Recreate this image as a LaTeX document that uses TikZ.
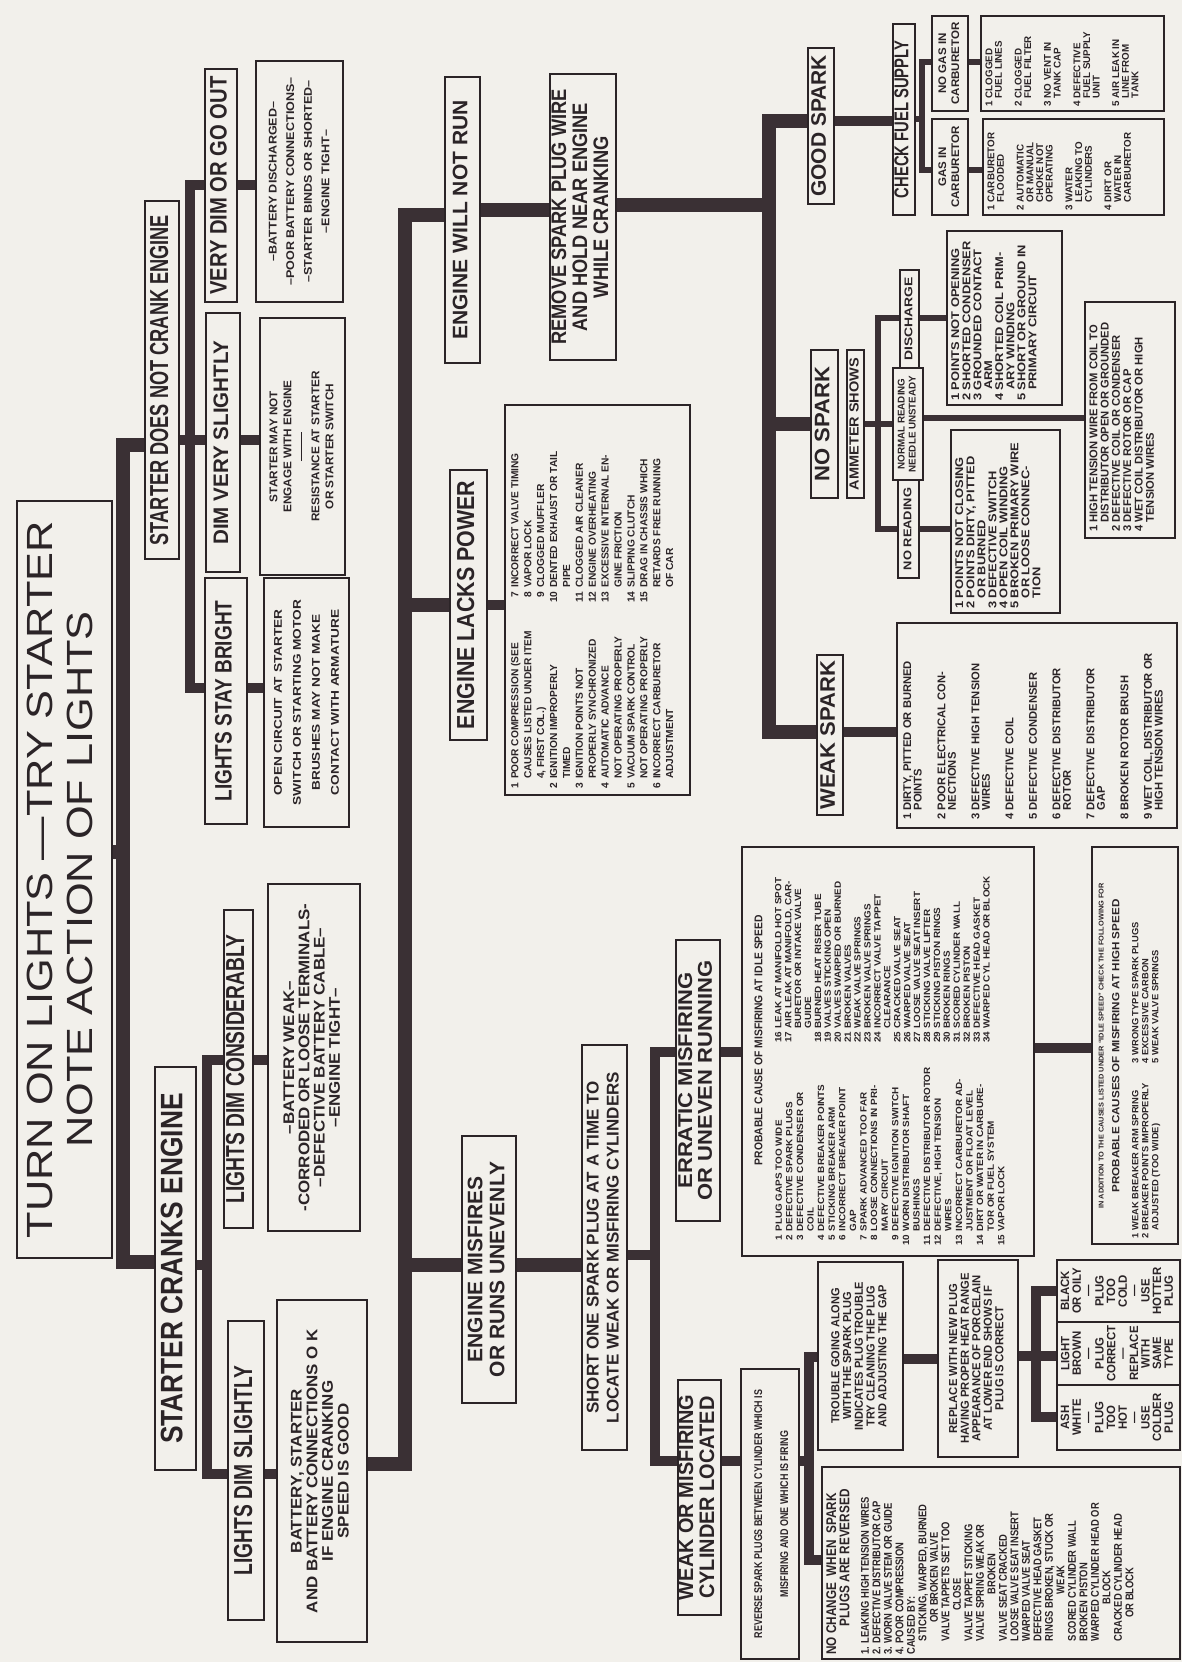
\documentclass[tikz,border=0pt]{standalone}
\usepackage{fontspec}
\setmainfont{Liberation Sans}
\usepackage{graphicx}
\definecolor{ink}{HTML}{2B2427}
\definecolor{wire}{HTML}{3A3034}
\definecolor{bg}{HTML}{F2F0EB}
\newcommand{\mytitle}[4]{\scalebox{#2}[1]{\fontsize{#1}{#3}\selectfont\begin{tabular}{@{}c@{}}#4\end{tabular}}}
\newcommand{\mytc}[4]{\scalebox{#2}[1]{\fontsize{#1}{#3}\selectfont\bfseries\begin{tabular}{@{}c@{}}#4\end{tabular}}}
\newcommand{\mylist}[5]{\scalebox{#2}[1]{\fontsize{#1}{#3}\selectfont\bfseries\begin{tabular}{@{}#4@{}}#5\end{tabular}}}
\newcommand{\pbx}[7][]{\node[box,#1,minimum width={(#6-#4)*0.5pt},minimum height={(#5-#3)*0.5pt}] (#2) at ({(#3+#5)/2},{(#4+#6)/2}) {#7};}
\begin{document}
\begin{tikzpicture}[x=0.5pt,y=-0.5pt,
  box/.style={draw=ink,line width=1.4pt,rotate=90,inner sep=0pt,text=ink},
  lbl/.style={rotate=90,inner sep=0pt,text=ink},
  trunk/.style={draw=wire,line width=7pt},
  med/.style={draw=wire,line width=5pt},
  thin/.style={draw=wire,line width=3pt}]
\fill[bg] (0,0) rectangle (1182,1662);
% ---------------- title and first level
\pbx{T}{17}{501}{112}{1258}{\mytitle{18.2}{1.19}{20}{TURN ON LIGHTS —TRY STARTER\\NOTE ACTION OF LIGHTS}}
\pbx{S1}{145}{201}{179}{559}{\mytc{13}{0.70}{15}{STARTER DOES NOT CRANK ENGINE}}
\pbx{S2}{155}{1067}{196}{1470}{\mytc{15.5}{0.85}{17}{STARTER CRANKS ENGINE}}
% ---------------- starter does not crank
\pbx{VD}{205}{69}{237}{302}{\mytc{11.9}{0.85}{14}{VERY DIM OR GO OUT}}
\pbx{DVS}{206}{313}{240}{572}{\mytc{10.5}{0.98}{13}{DIM VERY SLIGHTLY}}
\pbx{LSB}{205}{578}{247}{824}{\mytc{11.9}{0.8}{14}{LIGHTS STAY BRIGHT}}
\pbx{VDL}{256}{61}{343}{302}{\mytc{5.6}{1.12}{8.8}{–BATTERY DISCHARGED–\\–POOR BATTERY CONNECTIONS–\\–STARTER BINDS OR SHORTED–\\–ENGINE TIGHT–}}
\pbx{DVSL}{260}{318}{345}{575}{\mytc{5.6}{1.05}{7}{STARTER MAY NOT\\ENGAGE WITH ENGINE\\\rule[1.8pt]{14pt}{0.6pt}\\RESISTANCE AT STARTER\\OR STARTER SWITCH}}
\pbx{LSBL}{264}{578}{349}{827}{\mytc{5.6}{1.22}{9.5}{OPEN CIRCUIT AT STARTER\\SWITCH OR STARTING MOTOR\\BRUSHES MAY NOT MAKE\\CONTACT WITH ARMATURE}}
% ---------------- starter cranks
\pbx{LDC}{224}{910}{253}{1228}{\mytc{13}{0.74}{14}{LIGHTS DIM CONSIDERABLY}}
\pbx{LDS}{228}{1321}{264}{1620}{\mytc{13}{0.74}{15}{LIGHTS DIM SLIGHTLY}}
\pbx{BW}{268}{884}{360}{1231}{\mytc{7.7}{1.1}{7.5}{–BATTERY WEAK–\\-CORRODED OR LOOSE TERMINALS-\\–DEFECTIVE BATTERY CABLE–\\–ENGINE TIGHT–}}
\pbx{BS}{277}{1300}{367}{1642}{\mytc{7.7}{1.1}{7.8}{BATTERY, STARTER\\AND BATTERY CONNECTIONS O K\\IF ENGINE CRANKING\\SPEED IS GOOD}}
% ---------------- engine level
\pbx{EWNR}{445}{77}{480}{363}{\mytc{10.5}{1.0}{12}{ENGINE WILL NOT RUN}}
\pbx{ELP}{450}{470}{487}{740}{\mytc{12.3}{0.87}{14}{ENGINE LACKS POWER}}
\pbx{EMR}{462}{1136}{516}{1403}{\mytc{10.5}{1.0}{11}{ENGINE MISFIRES\\OR RUNS UNEVENLY}}
\pbx{REM}{550}{74}{616}{360}{\mytc{10.5}{0.87}{10.5}{REMOVE SPARK PLUG WIRE\\AND HOLD NEAR ENGINE\\WHILE CRANKING}}
\pbx{ELL}{505}{405}{690}{795}{}
\node[lbl,anchor=north west] (ELLt) at (509,789) {\mylist{5.1}{1.0}{6.45}{r@{\hspace{2pt}}p{88pt}@{}r@{\hspace{2pt}}l}{%
1 & POOR COMPRESSION (SEE & 7 & INCORRECT VALVE TIMING\\
 & CAUSES LISTED UNDER ITEM & 8 & VAPOR LOCK\\
 & 4, FIRST COL.) & 9 & CLOGGED MUFFLER\\
2 & IGNITION IMPROPERLY & 10 & DENTED EXHAUST OR TAIL\\
 & TIMED & & PIPE\\
3 & IGNITION POINTS NOT & 11 & CLOGGED AIR CLEANER\\
 & PROPERLY SYNCHRONIZED & 12 & ENGINE OVERHEATING\\
4 & AUTOMATIC ADVANCE & 13 & EXCESSIVE INTERNAL EN-\\
 & NOT OPERATING PROPERLY & & GINE FRICTION\\
5 & VACUUM SPARK CONTROL & 14 & SLIPPING CLUTCH\\
 & NOT OPERATING PROPERLY & 15 & DRAG IN CHASSIS WHICH\\
6 & INCORRECT CARBURETOR & & RETARDS FREE RUNNING\\
 & ADJUSTMENT & & OF CAR}};
% ---------------- engine will not run branch
\pbx{GS}{808}{48}{834}{204}{\mytc{10.5}{1.0}{12}{GOOD SPARK}}
\pbx{CFS}{893}{24}{915}{215}{\mytc{10}{0.74}{11}{CHECK FUEL SUPPLY}}
\pbx{NG}{932}{16}{968}{111}{\mytc{5.5}{1.05}{6.5}{NO GAS IN\\CARBURETOR}}
\pbx{GI}{932}{119}{968}{215}{\mytc{5.5}{1.05}{6.5}{GAS IN\\CARBURETOR}}
\pbx{CLL}{981}{16}{1164}{111}{}
\node[lbl,anchor=north west] (CLLt) at (985,107) {\mylist{4.9}{1.0}{4.75}{r@{\hspace{1.5pt}}l}{%
1 & CLOGGED\\ & FUEL LINES\\[5pt]
2 & CLOGGED\\ & FUEL FILTER\\[5pt]
3 & NO VENT IN\\ & TANK CAP\\[5pt]
4 & DEFECTIVE\\ & FUEL SUPPLY\\ & UNIT\\[5pt]
5 & AIR LEAK IN\\ & LINE FROM\\ & TANK}};
\pbx{FLL}{983}{119}{1164}{215}{}
\node[lbl,anchor=north west] (FLLt) at (987,211) {\mylist{4.9}{1.0}{4.75}{r@{\hspace{1.5pt}}l}{%
1 & CARBURETOR\\ & FLOODED\\[5pt]
2 & AUTOMATIC\\ & OR MANUAL\\ & CHOKE NOT\\ & OPERATING\\[5pt]
3 & WATER\\ & LEAKING TO\\ & CYLINDERS\\[5pt]
4 & DIRT OR\\ & WATER IN\\ & CARBURETOR}};
\pbx{NS}{811}{350}{838}{498}{\mytc{10.5}{1.05}{12}{NO SPARK}}
\pbx{AM}{847}{350}{864}{498}{\mytc{6.6}{1.1}{7.5}{AMMETER SHOWS}}
\pbx{DIS}{900}{270}{919}{368}{\mytc{5.6}{1.24}{7}{DISCHARGE}}
\pbx{NRB}{893}{368}{923}{480}{\mytc{4.9}{1.0}{5.5}{NORMAL READING\\NEEDLE UNSTEADY}}
\pbx{NOR}{898}{480}{919}{578}{\mytc{5.6}{1.15}{7}{NO READING}}
\pbx{DISL}{947}{231}{1062}{405}{}
\node[lbl,anchor=north west] (DISLt) at (951,401) {\mylist{5.6}{1.15}{5.35}{r@{\hspace{1.5pt}}l}{%
1 & POINTS NOT OPENING\\
2 & SHORTED CONDENSER\\
3 & GROUNDED CONTACT\\
 & ARM\\
4 & SHORTED COIL PRIM-\\
 & ARY WINDING\\
5 & SHORT OR GROUND IN\\
 & PRIMARY CIRCUIT}};
\pbx{NRL}{951}{430}{1060}{613}{}
\node[lbl,anchor=north west] (NRLt) at (955,609) {\mylist{5.6}{1.15}{5.35}{r@{\hspace{1.5pt}}l}{%
1 & POINTS NOT CLOSING\\
2 & POINTS DIRTY, PITTED\\
 & OR BURNED\\
3 & DEFECTIVE SWITCH\\
4 & OPEN COIL WINDING\\
5 & BROKEN PRIMARY WIRE\\
 & OR LOOSE CONNEC-\\
 & TION}};
\pbx{HTL}{1085}{302}{1175}{538}{}
\node[lbl,anchor=north west] (HTLt) at (1089,532) {\mylist{5.6}{1.0}{5.65}{r@{\hspace{1.5pt}}l}{%
1 & HIGH TENSION WIRE FROM COIL TO\\
 & DISTRIBUTOR OPEN OR GROUNDED\\
2 & DEFECTIVE COIL OR CONDENSER\\
3 & DEFECTIVE ROTOR OR CAP\\
4 & WET COIL DISTRIBUTOR OR HIGH\\
 & TENSION WIRES}};
\pbx{WS}{817}{655}{843}{815}{\mytc{10.5}{1.05}{12}{WEAK SPARK}}
\pbx{WSL}{897}{623}{1177}{828}{}
\node[lbl,anchor=north west] (WSLt) at (903,820) {\mylist{5.6}{1.0}{4.5}{r@{\hspace{1.5pt}}l}{%
1 & DIRTY, PITTED OR BURNED\\ & POINTS\\[6.5pt]
2 & POOR ELECTRICAL CON-\\ & NECTIONS\\[6.5pt]
3 & DEFECTIVE HIGH TENSION\\ & WIRES\\[6.5pt]
4 & DEFECTIVE COIL\\[6.5pt]
5 & DEFECTIVE CONDENSER\\[6.5pt]
6 & DEFECTIVE DISTRIBUTOR\\ & ROTOR\\[6.5pt]
7 & DEFECTIVE DISTRIBUTOR\\ & GAP\\[6.5pt]
8 & BROKEN ROTOR BRUSH\\[6.5pt]
9 & WET COIL, DISTRIBUTOR OR\\ & HIGH TENSION WIRES}};
% ---------------- misfiring branch
\pbx{SO}{582}{1045}{627}{1450}{\mytc{8.5}{1.0}{10}{SHORT ONE SPARK PLUG AT A TIME TO\\LOCATE WEAK OR MISFIRING CYLINDERS}}
\pbx{ERR}{676}{940}{720}{1221}{\mytc{10}{1.1}{9.8}{ERRATIC MISFIRING\\OR UNEVEN RUNNING}}
\pbx{WOM}{678}{1380}{721}{1615}{\mytc{10.5}{0.95}{10.5}{WEAK OR MISFIRING\\CYLINDER LOCATED}}
\pbx{PC}{742}{847}{1034}{1256}{}
\node[lbl] (PCT) at (760,1040) {\mytc{5.6}{0.92}{6}{PROBABLE CAUSE OF MISFIRING AT IDLE SPEED}};
\node[lbl,anchor=north west] (PCA) at (774,1246) {\mylist{4.5}{1.1}{5.3}{r@{\hspace{1.5pt}}l}{%
1 & PLUG GAPS TOO WIDE\\
2 & DEFECTIVE SPARK PLUGS\\
3 & DEFECTIVE CONDENSER OR\\
 & COIL\\
4 & DEFECTIVE BREAKER POINTS\\
5 & STICKING BREAKER ARM\\
6 & INCORRECT BREAKER POINT\\
 & GAP\\
7 & SPARK ADVANCED TOO FAR\\
8 & LOOSE CONNECTIONS IN PRI-\\
 & MARY CIRCUIT\\
9 & DEFECTIVE IGNITION SWITCH\\
10 & WORN DISTRIBUTOR SHAFT\\
 & BUSHINGS\\
11 & DEFECTIVE DISTRIBUTOR ROTOR\\
12 & DEFECTIVE, HIGH TENSION\\
 & WIRES\\
13 & INCORRECT CARBURETOR AD-\\
 & JUSTMENT OR FLOAT LEVEL\\
14 & DIRT OR WATER IN CARBURE-\\
 & TOR OR FUEL SYSTEM\\
15 & VAPOR LOCK}};
\node[lbl,anchor=north west] (PCB) at (774,1043) {\mylist{4.5}{1.1}{4.96}{r@{\hspace{1.5pt}}l}{%
16 & LEAK AT MANIFOLD HOT SPOT\\
17 & AIR LEAK AT MANIFOLD, CAR-\\
 & BURETOR OR INTAKE VALVE\\
 & GUIDE\\
18 & BURNED HEAT RISER TUBE\\
19 & VALVES STICKING OPEN\\
20 & VALVES WARPED OR BURNED\\
21 & BROKEN VALVES\\
22 & WEAK VALVE SPRINGS\\
23 & BROKEN VALVE SPRINGS\\
24 & INCORRECT VALVE TAPPET\\
 & CLEARANCE\\
25 & CRACKED VALVE SEAT\\
26 & WARPED VALVE SEAT\\
27 & LOOSE VALVE SEAT INSERT\\
28 & STICKING VALVE LIFTER\\
29 & STICKING PISTON RINGS\\
30 & BROKEN RINGS\\
31 & SCORED CYLINDER WALL\\
32 & BROKEN PISTON\\
33 & DEFECTIVE HEAD GASKET\\
34 & WARPED CYL HEAD OR BLOCK}};
\pbx{HS}{1092}{847}{1178}{1244}{}
\node[lbl] (HST) at (1102,1046) {\mytc{3.5}{1.05}{4}{IN ADDITION TO THE CAUSES LISTED UNDER ``IDLE SPEED'' CHECK THE FOLLOWING FOR}};
\node[lbl] (HSH) at (1117,1046) {\mytc{5.2}{1.12}{6}{PROBABLE CAUSES OF MISFIRING AT HIGH SPEED}};
\node[lbl,anchor=north west] (HSL) at (1131,1239) {\mylist{4.5}{1.04}{5}{r@{\hspace{1.5pt}}p{80pt}@{}r@{\hspace{1.5pt}}l}{%
1 & WEAK BREAKER ARM SPRING & 3 & WRONG TYPE SPARK PLUGS\\
2 & BREAKER POINTS IMPROPERLY & 4 & EXCESSIVE CARBON\\
 & ADJUSTED (TOO WIDE) & 5 & WEAK VALVE SPRINGS}};
\pbx{REV}{741}{1369}{799}{1659}{\mytc{5.6}{0.8}{13}{REVERSE SPARK PLUGS BETWEEN CYLINDER WHICH IS\\MISFIRING AND ONE WHICH IS FIRING}}
\pbx{TR}{818}{1262}{903}{1450}{\mytc{5.8}{0.95}{5.9}{TROUBLE GOING ALONG\\WITH THE SPARK PLUG\\INDICATES PLUG TROUBLE\\TRY CLEANING THE PLUG\\AND ADJUSTING THE GAP}}
\pbx{RP}{938}{1260}{1018}{1457}{\mytc{5.8}{0.97}{5.75}{REPLACE WITH NEW PLUG\\HAVING PROPER HEAT RANGE\\APPEARANCE OF PORCELAIN\\AT LOWER END SHOWS IF\\PLUG IS CORRECT}}
\pbx{BK}{1057}{1260}{1180}{1322}{\mytc{6}{0.95}{5.5}{BLACK\\OR OILY\\—\\PLUG\\TOO\\COLD\\—\\USE\\HOTTER\\PLUG}}
\pbx{LB}{1057}{1322}{1180}{1385}{\mytc{6}{0.95}{5.5}{LIGHT\\BROWN\\—\\PLUG\\CORRECT\\—\\REPLACE\\WITH\\SAME\\TYPE}}
\pbx{AS}{1057}{1385}{1180}{1450}{\mytc{6}{0.95}{5.5}{ASH\\WHITE\\—\\PLUG\\TOO\\HOT\\—\\USE\\COLDER\\PLUG}}
\pbx{NC}{822}{1467}{1180}{1659}{}
\node[lbl,anchor=north west] (NCt) at (826,1655) {\mylist{5.6}{0.84}{5.75}{l}{%
{\fontsize{7}{7.5}\selectfont NO CHANGE\ \ WHEN\ \ SPARK}\\
\hspace{17pt}{\fontsize{7}{7.5}\selectfont PLUGS ARE REVERSED}\\[4pt]
1. LEAKING HIGH TENSION WIRES\\
2. DEFECTIVE DISTRIBUTOR CAP\\
3. WORN VALVE STEM OR GUIDE\\
4. POOR COMPRESSION\\
CAUSED BY:\\
\hspace{8pt}STICKING, WARPED, BURNED\\
\hspace{19pt}OR BROKEN VALVE\\
\hspace{8pt}VALVE TAPPETS SET TOO\\
\hspace{26pt}CLOSE\\
\hspace{8pt}VALVE TAPPET STICKING\\
\hspace{8pt}VALVE SPRING WEAK OR\\
\hspace{36pt}BROKEN\\
\hspace{8pt}VALVE SEAT CRACKED\\
\hspace{8pt}LOOSE VALVE SEAT INSERT\\
\hspace{8pt}WARPED VALVE SEAT\\
\hspace{8pt}DEFECTIVE HEAD GASKET\\
\hspace{8pt}RINGS BROKEN, STUCK OR\\
\hspace{36pt}WEAK\\
\hspace{8pt}SCORED CYLINDER WALL\\
\hspace{8pt}BROKEN PISTON\\
\hspace{8pt}WARPED CYLINDER HEAD OR\\
\hspace{30pt}BLOCK\\
\hspace{8pt}CRACKED CYLINDER HEAD\\
\hspace{22pt}OR BLOCK}};
% ---------------- connectors
\coordinate (aT) at (123,445); \coordinate (aB) at (123,1262); \coordinate (aM) at (123,852);
\draw[trunk] (S1.north |- aT) -| (aB) -- (S2.north |- aB);
\draw[trunk] (T.south |- aM) -- (aM);
\coordinate (b1) at (190,185); \coordinate (b2) at (190,440); \coordinate (b3) at (190,688);
\draw[med] (VD.north |- b1) -| (b3) -- (LSB.north |- b3);
\draw[med] (S1.south |- b2) -- (DVS.north |- b2);
\draw[med] (VD.south |- b1) -- (VDL.north |- b1);
\draw[med] (DVS.south |- b2) -- (DVSL.north |- b2);
\draw[med] (LSB.south |- b3) -- (LSBL.north |- b3);
\coordinate (c1) at (207,1060); \coordinate (c2) at (207,1265); \coordinate (c3) at (207,1474);
\draw[med] (LDC.north |- c1) -| (c3) -- (LDS.north |- c3);
\draw[med] (S2.south |- c2) -- (c2);
\draw[med] (LDC.south |- c1) -- (BW.north |- c1);
\draw[med] (LDS.south |- c3) -- (BS.north |- c3);
\coordinate (d1) at (405,215); \coordinate (d2) at (405,605); \coordinate (d3) at (405,1265); \coordinate (d4) at (405,1464);
\draw[trunk] (EWNR.north |- d1) -| (d4) -- (BS.south |- d4);
\draw[trunk] (d2) -- (ELP.north |- d2);
\draw[trunk] (d3) -- (EMR.north |- d3);
\draw[med] (ELP.south |- d2) -- (ELL.north |- d2);
\coordinate (r1) at (520,210);
\draw[trunk] (EWNR.south |- r1) -- (REM.north |- r1);
\draw[trunk] (EMR.south |- d3) -- (SO.north |- d3);
\coordinate (e0) at (769,205); \coordinate (e1) at (769,121); \coordinate (e2) at (769,424); \coordinate (e3) at (769,732);
\draw[trunk] (REM.south |- e0) -- (e0);
\draw[trunk] (GS.north |- e1) -| (e3) -- (WS.north |- e3);
\draw[trunk] (e2) -- (NS.north |- e2);
\draw[med] (GS.south |- e1) -- (CFS.north |- e1);
\draw[med] (WS.south |- e3) -- (WSL.north |- e3);
\coordinate (f0) at (922,119); \coordinate (f1) at (922,62); \coordinate (f2) at (922,170);
\draw[thin] (CFS.south |- f0) -- (f0);
\draw[thin] (NG.north |- f1) -| (f2) -- (GI.north |- f2);
\draw[thin] (NG.south |- f1) -- (CLL.north |- f1);
\draw[thin] (GI.south |- f2) -- (FLL.north |- f2);
\coordinate (g1) at (878,318); \coordinate (g2) at (878,424); \coordinate (g3) at (878,529); \coordinate (g4) at (1000,418);
\draw[thin] (AM.south |- g2) -- (NRB.north |- g2);
\draw[thin] (DIS.north |- g1) -| (g3) -- (NOR.north |- g3);
\draw[thin] (DIS.south |- g1) -- (DISL.north |- g1);
\draw[thin] (NRB.south |- g4) -- (HTL.north |- g4);
\draw[thin] (NOR.south |- g3) -- (NRL.north |- g3);
\coordinate (h1) at (655,1052); \coordinate (h2) at (655,1255); \coordinate (h3) at (655,1461); \coordinate (p1) at (1060,1048);
\draw[med] (SO.south |- h2) -- (h2);
\draw[med] (ERR.north |- h1) -| (h3) -- (WOM.north |- h3);
\draw[med] (ERR.south |- h1) -- (PC.north |- h1);
\draw[med] (PC.south |- p1) -- (HS.north |- p1);
\draw[med] (WOM.south |- h3) -- (REV.north |- h3);
\coordinate (i1) at (809,1357); \coordinate (i2) at (809,1461); \coordinate (i3) at (809,1560); \coordinate (q1) at (920,1359);
\draw[med] (REV.south |- i2) -- (i2);
\draw[med] (TR.north |- i1) -| (i3) -- (NC.north |- i3);
\draw[med] (TR.south |- q1) -- (RP.north |- q1);
\coordinate (j1) at (1036,1291); \coordinate (j2) at (1036,1356); \coordinate (j3) at (1036,1417);
\draw[med] (RP.south |- j2) -- (LB.north |- j2);
\draw[med] (BK.north |- j1) -| (j3) -- (AS.north |- j3);
\end{tikzpicture}
\end{document}
